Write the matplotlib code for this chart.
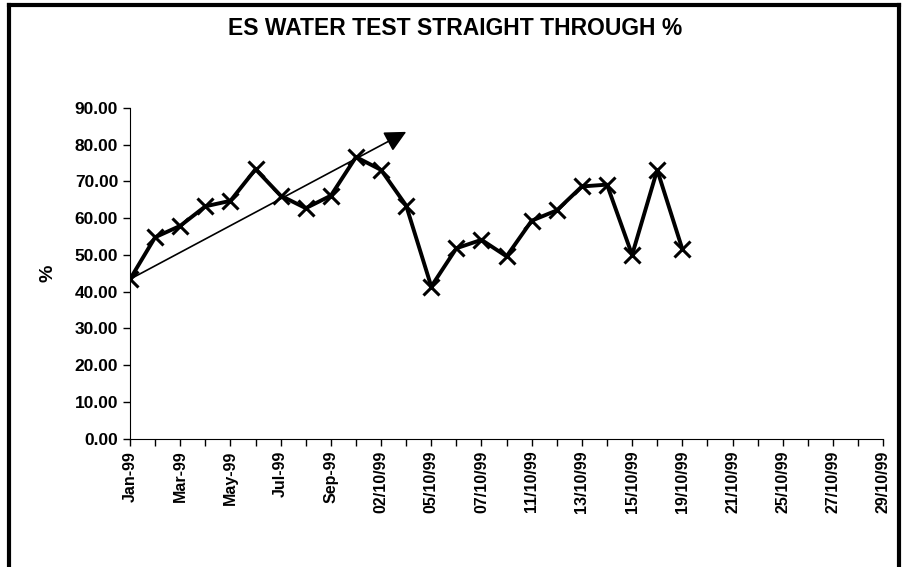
import matplotlib.pyplot as plt
from matplotlib.lines import Line2D

plt.rcParams['font.family'] = ['Liberation Sans', 'DejaVu Sans']
plt.rcParams['font.weight'] = 'bold'

# categories along the x axis (31 slots, every other one labelled)
categories = ['Jan-99', 'Feb-99', 'Mar-99', 'Apr-99', 'May-99', 'Jun-99', 'Jul-99',
              'Aug-99', 'Sep-99', '01/10/99', '02/10/99', '04/10/99', '05/10/99',
              '06/10/99', '07/10/99', '08/10/99', '11/10/99', '12/10/99', '13/10/99',
              '14/10/99', '15/10/99', '18/10/99', '19/10/99', '20/10/99', '21/10/99',
              '22/10/99', '25/10/99', '26/10/99', '27/10/99', '28/10/99', '29/10/99']
# straight through % (only the first 23 slots have values)
pct = [43.4, 54.8, 57.9, 63.2, 64.7, 73.3, 66.1, 62.7, 66.1, 76.6, 73.1, 63.4,
       41.4, 51.8, 54.1, 49.6, 59.3, 62.1, 68.6, 69.1, 50.0, 73.1, 51.6]
# trend arrow: start and end (category index, %)
trend_x = [0, 11.1]
trend_y = [43.4, 83.8]
yticks = [0, 10, 20, 30, 40, 50, 60, 70, 80, 90]

fig = plt.figure(figsize=(9.03, 5.67), dpi=100)
ax = fig.add_axes([0.144, 0.226, 0.834, 0.584])

ax.plot(range(len(pct)), pct, color='black', lw=2.8, marker='x', ms=11, mew=2.2)
ax.annotate('', xy=(trend_x[1], trend_y[1]), xytext=(trend_x[0], trend_y[0]),
            arrowprops=dict(arrowstyle='-|>,head_length=1.3,head_width=0.65',
                            color='black', lw=1.2))

ax.set_xlim(0, len(categories) - 1)
ax.set_ylim(0, 90)
ax.set_xticks(range(len(categories)))
ax.set_xticklabels([c if i % 2 == 0 else '' for i, c in enumerate(categories)],
                   rotation=90, fontsize=11.5, fontweight='bold')
ax.set_yticks(yticks)
ax.set_yticklabels(['%.2f' % v for v in yticks], fontsize=12.5, fontweight='bold')
ax.tick_params(axis='both', direction='out', length=5, width=1, colors='black')
ax.spines['top'].set_visible(False)
ax.spines['right'].set_visible(False)
ax.set_ylabel('%', fontsize=14, fontweight='bold', labelpad=13)

fig.text(0.504, 0.949, 'ES WATER TEST STRAIGHT THROUGH %', ha='center', va='center',
         fontsize=16.5, fontweight='bold')

# thick frame around the chart area
fig.add_artist(Line2D([0.01, 0.01], [0, 0.992], transform=fig.transFigure, color='black', lw=3))
fig.add_artist(Line2D([0.01, 0.996], [0.992, 0.992], transform=fig.transFigure, color='black', lw=3))
fig.add_artist(Line2D([0.996, 0.996], [0, 0.992], transform=fig.transFigure, color='black', lw=3))

fig.savefig('out.png', dpi=100)
